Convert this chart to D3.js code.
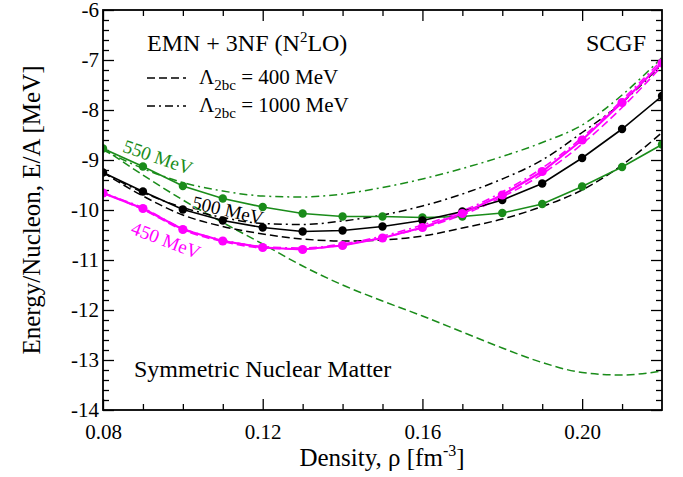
<!DOCTYPE html>
<html><head><meta charset="utf-8">
<script src="https://cdn.jsdelivr.net/npm/d3@7"></script>
</head><body style="margin:0;background:#fff">
<svg id="c" width="683" height="477"></svg>
<script>
// ---- data ----
const density = [0.08,0.09,0.10,0.11,0.12,0.13,0.14,0.15,0.16,0.17,0.18,0.19,0.20,0.21,0.22];
// solid (with markers): default cutoff
const e450 = [-9.66,-9.97,-10.39,-10.62,-10.75,-10.79,-10.71,-10.56,-10.35,-10.07,-9.70,-9.23,-8.60,-7.85,-7.06];
const e500 = [-9.25,-9.63,-9.99,-10.21,-10.35,-10.43,-10.41,-10.33,-10.21,-10.03,-9.80,-9.47,-8.96,-8.38,-7.72];
const e550 = [-8.77,-9.13,-9.52,-9.77,-9.94,-10.07,-10.13,-10.13,-10.15,-10.13,-10.06,-9.88,-9.53,-9.14,-8.69];
// dashed: Lambda_2bc = 400 MeV
const e450_400 = [-9.66,-9.99,-10.40,-10.63,-10.76,-10.78,-10.70,-10.55,-10.36,-10.10,-9.74,-9.28,-8.68,-7.95,-7.12];
const e500_400 = [-9.25,-9.72,-10.10,-10.33,-10.48,-10.58,-10.62,-10.60,-10.52,-10.36,-10.18,-9.93,-9.60,-9.10,-8.45];
const e550_400 = [-8.77,-9.30,-9.80,-10.25,-10.68,-11.12,-11.50,-11.82,-12.12,-12.44,-12.76,-13.05,-13.25,-13.30,-13.22];
// dash-dot: Lambda_2bc = 1000 MeV
const e450_1000 = [-9.66,-9.96,-10.37,-10.60,-10.73,-10.76,-10.68,-10.52,-10.30,-10.02,-9.64,-9.16,-8.55,-7.80,-7.00];
const e500_1000 = [-9.25,-9.65,-9.95,-10.15,-10.27,-10.29,-10.22,-10.10,-9.92,-9.68,-9.38,-9.00,-8.45,-7.85,-7.08];
const e550_1000 = [-8.80,-9.17,-9.45,-9.62,-9.72,-9.74,-9.68,-9.55,-9.38,-9.17,-8.93,-8.65,-8.30,-7.70,-6.95];
const xMajor = [0.08,0.12,0.16,0.20];
const xMinor = [0.09,0.10,0.11,0.13,0.14,0.15,0.17,0.18,0.19,0.21];
const yMajor = [-14,-13,-12,-11,-10,-9,-8,-7,-6];
const xTickLabels = ["0.08","0.12","0.16","0.20"];
const yTickLabels = ["-14","-13","-12","-11","-10","-9","-8","-7","-6"];

// ---- drawing ----
const FONT = "Liberation Serif";
const svg = d3.select("#c");
const L=103, R=662, T=10, B=410;
const x = d3.scaleLinear().domain([0.08,0.22]).range([L,R]);
const y = d3.scaleLinear().domain([-14,-6]).range([B,T]);
const GREEN="#1a8c1a", MAG="#ff00ff", BLK="#000";

svg.append("defs").append("clipPath").attr("id","clip")
  .append("rect").attr("x",L).attr("y",T).attr("width",R-L).attr("height",B-T);

const yMinor = d3.range(-14,-6.001,0.2).filter(v=>Math.abs(v-Math.round(v))>1e-6);

function axisG(axis, tx, ty){ const g=svg.append("g").attr("transform",`translate(${tx},${ty})`).call(axis); g.attr("font-family",FONT); g.select(".domain").remove(); g.selectAll("line").attr("stroke","#000").attr("stroke-width",1.3); return g; }
const MJ=11, MN=6;
// bottom
let gb=axisG(d3.axisBottom(x).tickValues(xMajor).tickSize(-MJ).tickPadding(14).tickFormat((d,i)=>xTickLabels[i]),0,B);
gb.selectAll("text").attr("font-size",21).attr("font-family",FONT).attr("fill","#000");
axisG(d3.axisBottom(x).tickValues(xMinor).tickSize(-MN).tickFormat(""),0,B);
// top
axisG(d3.axisTop(x).tickValues(xMajor).tickSize(-MJ).tickFormat(""),0,T);
axisG(d3.axisTop(x).tickValues(xMinor).tickSize(-MN).tickFormat(""),0,T);
// left
let gl=axisG(d3.axisLeft(y).tickValues(yMajor).tickSize(-MJ).tickPadding(4).tickFormat((d,i)=>yTickLabels[i]),L,0);
gl.selectAll("text").attr("font-size",21).attr("font-family",FONT).attr("fill","#000");
axisG(d3.axisLeft(y).tickValues(yMinor).tickSize(-MN).tickFormat(""),L,0);
// right
axisG(d3.axisRight(y).tickValues(yMajor).tickSize(-MJ).tickFormat(""),R,0);
axisG(d3.axisRight(y).tickValues(yMinor).tickSize(-MN).tickFormat(""),R,0);

const plot = svg.append("g").attr("clip-path","url(#clip)");
const smooth = d3.line().x((d,i)=>x(density[i])).y(d=>y(d)).curve(d3.curveMonotoneX);
const straight = d3.line().x((d,i)=>x(density[i])).y(d=>y(d));
const DASH="8,4", DDOT="8,4,2,4";

function curve(vals,color,dash,w){ plot.append("path").attr("d",smooth(vals)).attr("fill","none").attr("stroke",color).attr("stroke-width",w).attr("stroke-dasharray",dash); }
curve(e550_400,GREEN,DASH,1.5);
curve(e550_1000,GREEN,DDOT,1.5);
curve(e500_400,BLK,DASH,1.5);
curve(e500_1000,BLK,DDOT,1.5);
curve(e450_400,MAG,DASH,1.6);
curve(e450_1000,MAG,DDOT,1.6);

function series(vals,color,w,r){
  plot.append("path").attr("d",straight(vals)).attr("fill","none").attr("stroke",color).attr("stroke-width",w);
  plot.selectAll(null).data(vals).enter().append("circle")
    .attr("cx",(d,i)=>x(density[i])).attr("cy",d=>y(d)).attr("r",r).attr("fill",color);
}
series(e550,GREEN,1.6,4.2);
series(e500,BLK,1.6,4.2);
series(e450,MAG,2.2,4.6);

// frame
svg.append("rect").attr("x",L).attr("y",T).attr("width",R-L).attr("height",B-T)
  .attr("fill","none").attr("stroke","#000").attr("stroke-width",1.8);

function txt(xx,yy,size){ return svg.append("text").attr("x",xx).attr("y",yy).attr("font-size",size).attr("font-family",FONT).attr("fill","#000"); }
// texts
const t1 = txt(147,51,24);
t1.append("tspan").text("EMN + 3NF (N");
t1.append("tspan").text("2").attr("font-size",15).attr("dy",-9);
t1.append("tspan").text("LO)").attr("dy",9);
txt(646,51,24).attr("text-anchor","end").text("SCGF");

function legendRow(yy,dash,label){
  svg.append("line").attr("x1",147).attr("x2",186).attr("y1",yy).attr("y2",yy)
    .attr("stroke","#000").attr("stroke-width",1.6).attr("stroke-dasharray",dash);
  const t=txt(199,yy+6,21);
  t.append("tspan").text("Λ");
  t.append("tspan").text("2bc").attr("font-size",15).attr("dy",6);
  t.append("tspan").text(" = "+label).attr("dy",-6);
}
legendRow(78,DASH,"400 MeV");
legendRow(106,DDOT,"1000 MeV");

txt(134,377,24).text("Symmetric Nuclear Matter");

function rotLabel(t,cx,cy,ang,color){
  txt(0,0,19).attr("transform",`translate(${cx},${cy}) rotate(${ang})`)
    .attr("text-anchor","middle").attr("dy","0.35em").attr("fill",color).text(t);
}
rotLabel("550 MeV",158,157,19,GREEN);
rotLabel("500 MeV",228,210,13,BLK);
rotLabel("450 MeV",166,240,21,MAG);

// axis titles
const xt = txt(382,466,25).attr("text-anchor","middle");
xt.append("tspan").text("Density, ρ [fm");
xt.append("tspan").text("-3").attr("font-size",16).attr("dy",-10);
xt.append("tspan").text("]").attr("dy",10);
txt(0,0,25).attr("transform","translate(40,210) rotate(-90)").attr("text-anchor","middle")
  .text("Energy/Nucleon, E/A [MeV]");
</script>
</body></html>
